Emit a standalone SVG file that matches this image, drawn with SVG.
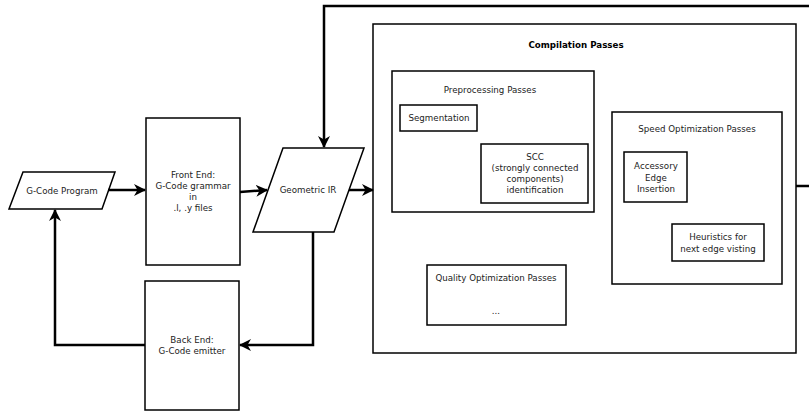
<svg xmlns="http://www.w3.org/2000/svg" width="809" height="411" viewBox="0 0 809 411">
<style>
.box{fill:#fff;stroke:#000;stroke-width:1.5}
.t{font-family:"DejaVu Sans","Liberation Sans",sans-serif;font-size:8.7px;fill:#222;text-anchor:middle}
.b{font-weight:bold;fill:#000}
.c{fill:none;stroke:#000;stroke-width:2.5}
</style>
<defs>
<marker id="arr" viewBox="0 0 12 12" refX="11" refY="6" markerWidth="12" markerHeight="12" markerUnits="userSpaceOnUse" orient="auto">
<path d="M0,0 L12,6 L0,12 L3.5,6 z" fill="#000"/>
</marker>
</defs>
<rect width="809" height="411" fill="#fff"/>
<g id="compilation">
<rect class="box" x="373" y="24" width="423" height="329"/>
<text class="t b" x="576" y="48">Compilation Passes</text>
</g>
<g id="preprocessing">
<rect class="box" x="392" y="71" width="202" height="141"/>
<text class="t" x="490" y="93">Preprocessing Passes</text>
</g>
<g id="segmentation">
<rect class="box" x="400" y="105" width="77" height="26"/>
<text class="t" x="439" y="121">Segmentation</text>
</g>
<g id="scc">
<rect class="box" x="481" y="144" width="107" height="59"/>
<text class="t" x="535" y="160">SCC</text>
<text class="t" x="535" y="171">(strongly connected</text>
<text class="t" x="535" y="182">components)</text>
<text class="t" x="535" y="193">identification</text>
</g>
<g id="speed">
<rect class="box" x="612" y="112" width="170" height="172"/>
<text class="t" x="697" y="132">Speed Optimization Passes</text>
</g>
<g id="accessory">
<rect class="box" x="624" y="152" width="63" height="50"/>
<text class="t" x="656" y="169">Accessory</text>
<text class="t" x="656" y="180.5">Edge</text>
<text class="t" x="656" y="192">Insertion</text>
</g>
<g id="heuristics">
<rect class="box" x="672" y="224" width="92" height="37"/>
<text class="t" x="718" y="240">Heuristics for</text>
<text class="t" x="718" y="252">next edge visting</text>
</g>
<g id="quality">
<rect class="box" x="427" y="265" width="139" height="60"/>
<text class="t" x="496" y="281">Quality Optimization Passes</text>
<text class="t" x="496" y="314">...</text>
</g>
<g id="gcode">
<polygon class="box" points="23,172 115,172 102,209 9,209"/>
<text class="t" x="62" y="194">G-Code Program</text>
</g>
<g id="frontend">
<rect class="box" x="146" y="118" width="94" height="147"/>
<text class="t" x="193" y="178">Front End:</text>
<text class="t" x="193" y="189">G-Code grammar</text>
<text class="t" x="193" y="200">in</text>
<text class="t" x="193" y="211">.l, .y files</text>
</g>
<g id="geomir">
<polygon class="box" points="283,148 364,148 334,232 253,232"/>
<text class="t" x="308" y="193">Geometric IR</text>
</g>
<g id="backend">
<rect class="box" x="145" y="281" width="94" height="129"/>
<text class="t" x="192" y="342.5">Back End:</text>
<text class="t" x="192" y="354">G-Code emitter</text>
</g>
<g id="connectors">
<path class="c" d="M108,190 L145,190" marker-end="url(#arr)"/>
<path class="c" d="M240,192 L267,190" marker-end="url(#arr)"/>
<path class="c" d="M349,190 L373,190" marker-end="url(#arr)"/>
<path class="c" d="M796,186 L815,186 L815,6 L324,6 L324,147" marker-end="url(#arr)"/>
<path class="c" d="M313,232 L313,345 L240,345" marker-end="url(#arr)"/>
<path class="c" d="M145,345 L55,345 L55,210" marker-end="url(#arr)"/>
</g>
</svg>
